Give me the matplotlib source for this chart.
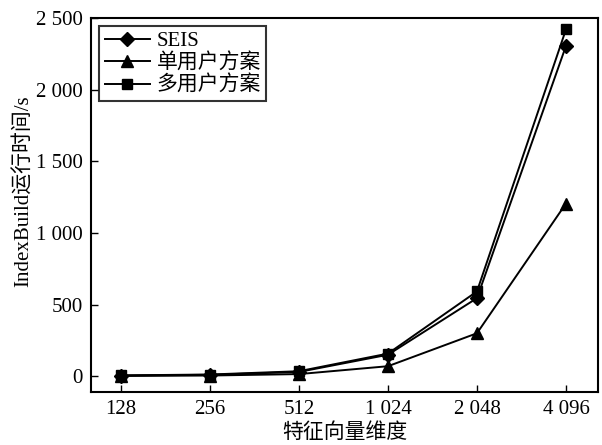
import matplotlib
matplotlib.use("Agg")
import matplotlib.pyplot as plt

plt.rcParams['font.family'] = ['Liberation Serif', 'Noto Sans CJK SC']
plt.rcParams['axes.unicode_minus'] = False

dims = ["128", "256", "512", "1 024", "2 048", "4 096"]
seis = [5, 10, 30, 150, 545, 2305]
single_user = [2, 5, 15, 70, 300, 1205]
multi_user = [6, 12, 35, 158, 592, 2420]
y_ticks = [0, 500, 1000, 1500, 2000, 2500]
y_labels = ["0", "500", "1 000", "1 500", "2 000", "2 500"]

x = list(range(len(dims)))

fig = plt.figure(figsize=(6.02, 4.45), dpi=100)
ax = fig.add_axes([91/602, 1 - 392/445, 507/602, 374/445])

ax.plot(x, seis, color="black", linewidth=1.4, marker="D", markersize=7.5, label="SEIS")
ax.plot(x, single_user, color="black", linewidth=1.4, marker="^", markersize=8.5, label="单用户方案")
ax.plot(x, multi_user, color="black", linewidth=1.4, marker="s", markersize=7.5, label="多用户方案")

ax.set_xlim(-0.337, 5.36)
ax.set_ylim(-110, 2500)
ax.set_xticks(x)
ax.set_xticklabels(dims)
ax.set_yticks(y_ticks)
ax.set_yticklabels(y_labels)
ax.tick_params(direction="in", labelsize=15, length=5, width=1, pad=6)
for s in ax.spines.values():
    s.set_linewidth(1.5)

ax.set_xlabel("特征向量维度", fontsize=15, labelpad=3)
ax.set_ylabel("IndexBuild运行时间/s", fontsize=15)
ax.yaxis.set_label_coords(-0.112, 0.537)

leg = ax.legend(loc="upper left", fontsize=15, frameon=True, fancybox=False,
                edgecolor="black", handlelength=2.2, handletextpad=0.3,
                borderpad=0.25, labelspacing=0.12, borderaxespad=0.4)
leg.get_frame().set_linewidth(1.5)

fig.savefig("out.png", dpi=100)
